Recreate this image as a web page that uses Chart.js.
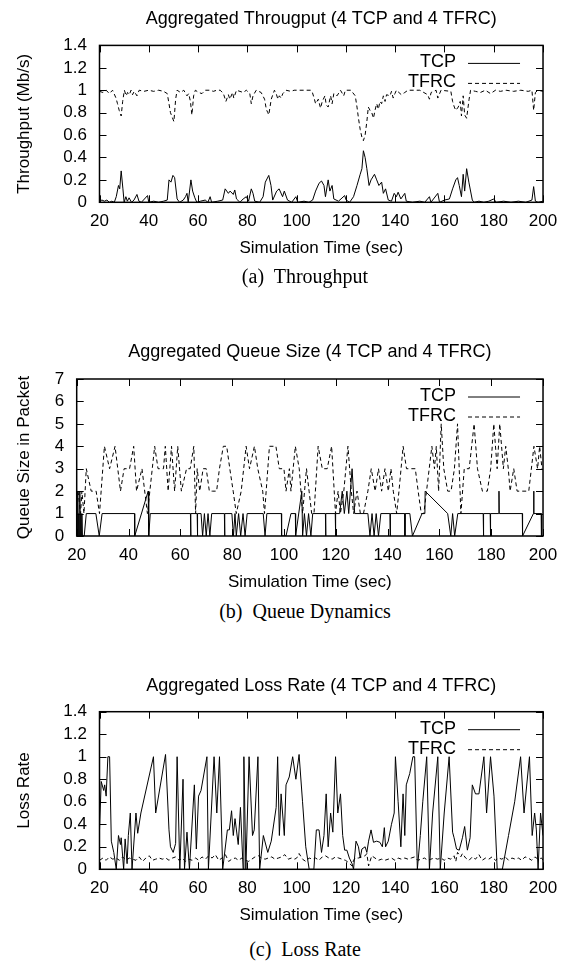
<!DOCTYPE html>
<html>
<head>
<meta charset="utf-8">
<script src="https://cdn.jsdelivr.net/npm/chart.js@4/dist/chart.umd.min.js"></script>
<style>
  html, body { margin: 0; padding: 0; background: #fff; }
  #page { position: relative; width: 566px; height: 963px; overflow: hidden; }
  canvas { position: absolute; left: 0; }
  .cap { position: absolute; left: 5px; width: 600px; text-align: center;
         font-family: "Liberation Serif", serif; font-size: 20px; color: #000; }
</style>
</head>
<body>
<div id="page">
  <canvas id="thr" width="566" height="270" style="top:0px"></canvas>
  <canvas id="queue" width="566" height="270" style="top:330px"></canvas>
  <canvas id="loss" width="566" height="270" style="top:663px"></canvas>
  <div class="cap" style="top:265px">(a)&nbsp; Throughput</div>
  <div class="cap" style="top:600px">(b)&nbsp; Queue Dynamics</div>
  <div class="cap" style="top:938px">(c)&nbsp; Loss Rate</div>
</div>
<script>
// --- throughput (Mb/s) ---
const thrTcpTime = [20,21,22,23,24,25,26,26.8,27.7,28.2,28.8,29.5,30,30.7,31.3,32,33,34,35.2,36,37,39.5,40,42,44,46,47.5,48.2,49,49.8,50.5,51.5,52.5,54,54.9,55.5,56,57.1,57.8,58.7,59.5,61,62.9,64,64.9,65.5,68,70,71,72.3,73,74.3,74.9,75.6,77,78.3,79.6,80.5,81.6,82.3,83,85,86.4,87.3,88.7,89.6,90.3,91.9,92.9,94.3,95,96.3,98,99.7,100.5,103,105,106.5,107.7,109.1,110.1,111.1,111.7,112.8,113.5,114.4,115.1,117,119.5,120.1,121.5,123.1,124.5,125.8,126.5,127.1,127.8,128.5,129.4,130.2,131.6,132.5,133.4,134.5,135.2,136.1,137.2,138.5,139.6,140.5,141.2,142.3,143.9,144.5,147,150,152,153.9,154.5,157.3,158,160,162,163.3,164.6,165.3,166,166.9,167.6,168.2,169,169.9,171.3,172,174,176,178,180,181,184,187,190,193,195.5,196.2,196.9,198,200];
const thrTcp = [0.01,0.02,0.01,0.02,0,0.01,0,0.05,0.15,0.12,0.28,0.12,0,0.05,0.01,0.04,0,0.02,0.07,0.01,0,0.06,0,0.01,0,0.01,0.02,0.2,0.18,0.24,0.22,0.03,0,0.02,0.05,0.08,0,0.2,0.1,0.04,0,0.01,0.02,0,0.05,0,0.01,0.02,0.12,0.08,0.1,0.07,0.11,0.03,0,0.03,0.05,0.01,0.12,0.08,0.01,0,0.05,0.18,0.24,0.15,0.02,0.1,0.12,0.05,0.1,0.02,0,0.05,0,0.01,0,0.02,0.1,0.17,0.19,0.15,0.05,0.2,0.1,0.15,0.03,0.01,0.06,0.02,0,0.05,0.15,0.25,0.3,0.46,0.4,0.3,0.15,0.2,0.25,0.2,0.15,0.18,0.08,0.12,0.02,0.01,0.08,0.05,0.09,0.03,0.08,0.01,0,0.01,0,0.05,0,0.08,0,0.02,0.03,0.12,0.2,0.22,0.15,0.05,0.25,0.1,0.3,0.18,0.02,0,0.01,0,0.01,0.03,0,0.01,0,0.01,0,0.02,0.14,0.01,0,0.01];
const thrTfrcTime = [20,21.4,22.7,24,25.3,26.7,27.3,28,28.8,29.4,30.1,30.8,31.4,32.1,32.8,33.4,34.1,35.2,36.1,38,40,42,44,46,47.5,48.2,48.8,49.5,50.2,50.9,51.5,52.9,54.2,55.5,56.2,56.9,57.5,58.2,58.9,60.2,61.6,62.9,64.9,66.2,67.6,69,70.3,71.3,72.3,72.9,74,74.5,75.6,78.3,79.6,81,81.6,82.3,83.6,85.6,87,87.7,88.3,88.7,89.7,91,91.7,92.4,93,93.7,94.4,95.7,97.7,99,100,103,105.7,106.4,107.1,107.7,108.8,109.7,110.4,111.5,112,112.8,113.8,114.4,115.1,116.4,117.8,119.1,119.8,122,123.8,124.5,125.1,125.8,126.5,127.1,127.8,128.5,129.1,129.8,130.5,131.2,131.8,132.5,133.2,133.8,134.5,135.2,135.9,136.5,137.9,138.5,139.2,139.9,140.5,142.5,143.9,145.2,150,153.2,153.9,154.6,156.6,157.3,158.6,162.6,163.3,164,164.6,165.6,166.4,166.9,167.6,168.2,169,170,170.6,172.6,174.6,176.6,178.7,180.7,182.7,185,188,191,194,195.5,196.2,196.9,198,200];
const thrTfrc = [0.99,0.98,1,0.97,1,0.93,0.88,0.82,0.77,0.9,1,0.95,0.98,0.96,1,0.96,0.99,0.95,1,0.99,1,0.99,1,0.99,0.97,0.88,0.8,0.76,0.72,0.92,1,0.98,1,0.95,0.97,0.9,0.78,0.95,1,0.98,0.97,1,1,0.99,1,1,0.97,0.9,0.96,0.92,0.98,0.93,1,0.98,1,0.97,0.88,0.95,1,0.98,0.92,0.83,0.8,0.78,0.92,1,0.97,0.92,0.95,0.93,0.97,1,0.99,1,1,1,1,0.98,0.93,0.88,0.92,0.84,0.9,0.95,0.87,0.85,0.95,0.88,0.97,0.95,1,0.95,1,1,0.95,0.85,0.75,0.65,0.58,0.55,0.6,0.72,0.85,0.82,0.8,0.75,0.82,0.88,0.83,0.9,0.88,0.95,0.9,0.96,0.95,0.99,0.93,0.97,1,0.96,0.98,1,1,0.96,0.92,0.98,1,0.93,1,0.99,0.9,0.85,0.82,0.85,0.9,0.77,0.95,0.78,0.75,0.92,1,0.99,0.98,1,0.97,1,0.99,1,0.99,1,0.99,1,0.82,0.98,1,0.99];

// --- queue size (packets) ---
const queueTcpTime = [20,20.2,20.4,20.6,20.8,21,21.2,21.4,21.6,21.8,22,22.2,22.9,23.7,27.4,28.7,29.8,42.3,42.4,47.6,47.8,48.4,63.9,64,64.1,66.5,66.6,66.7,68,68.6,69.3,70,70.7,71.4,72.1,77,77.1,77.2,79.9,80.5,81.1,81.6,82.5,83.3,84.2,85,85.8,92,92.7,93.4,99,99.1,100.8,102.7,104.4,104.5,106.9,107.2,107.9,108.7,109.5,110.4,111.1,116,116.1,116.2,119.8,119.9,120,121.5,122.5,123.3,124.3,125,126.3,127.3,132.4,133.2,134,134.8,135.6,136.5,137.4,140.9,141,141.1,146.6,146.7,146.8,148.6,149.6,153.3,154.4,154.5,163.2,164.4,165.1,165.9,167.1,176.9,177,177.1,179.6,179.7,179.8,182.9,183,183.1,192,192.1,196.3,196.4,196.5,199.3,199.4,200];
const queueTcp = [2,0,2,0,1,0,2,0,1,0,1,0,0,1,1,0,1,1,0,2,0,1,1,0,1,1,0,1,1,0,1,0,1,0,1,1,0,1,1,0,1,0,1,0,1,0,1,1,0,1,1,0,0,1,1,0,2,0,1,0,1,0,1,1,0,1,1,0,1,1,2,1,2,1,3,1,1,0,1,0,1,0,1,1,0,1,1,0,1,1,0,1,1,2,1,0,1,0,1,1,0,1,1,0,1,1,2,1,1,0,1,2,1,1,0,0];
const queueTfrcTime = [20.5,21.5,22,22.8,23.7,25.6,27.5,28.8,30.7,32.7,34.8,36.9,38.3,40.4,42,43.1,45.2,47.3,50.1,51.4,53.5,54.2,55.3,56.6,57.8,59,60.4,62.4,63.8,65.2,65.9,66.5,67.5,68.8,70,71.2,72.5,74,75.1,76.6,77.9,79.1,80.4,81.6,83.5,85.4,86.7,88.6,89.9,91.8,92.5,94.4,96.9,98.2,100,100.8,102.1,102.7,104.4,105.9,107.2,108.7,109.7,110.7,111.6,113.2,114.8,116.7,118.4,119.9,120.9,121.8,123.1,124.7,126,126.9,128.2,129.5,130.7,132.4,133.7,135.2,136.5,137.7,139,140.3,141.3,142.2,143.5,144.4,146,147.3,149.2,150.7,151.8,153,154,157.1,158.1,158.8,159.7,160.7,161.7,163.2,164.5,165.8,167,168.3,169.6,171.5,173.4,174.7,176.6,178.5,179.8,181,182.3,183.3,184.7,185.6,186.6,187.3,188.7,190,192,194.5,196.5,197.9,198.7,199.6];
const queueTfrc = [2,1,2,1,3,2,2,1,4,3,4,2,3,3,4,2,3,1,4,3,3,4,2,4,2,4,2,3,3,4,1,3,2,3,3,2,2,2,3,4,4,3,2,1,2,4,3,4,3,2,1,4,4,3,3,2,3,2,4,3,1,3,2,1,1,4,3,3,4,1,2,1,2,4,2,1,2,1,1,2,3,2,3,2,3,2,3,2,1,2,4,3,3,3,2,1,1,4,3,4,2,5,3,2,2,3,5,1,3,3,5,3,2,2,3,5,3,5,3,4,3,2,3,2,2,2,4,3,4,3];

// --- loss rate ---
const lossTcpTime = [20,20.7,21.7,22.1,22.7,23.4,24.1,24.8,25.8,26.8,27.7,28.5,28.8,29.8,30.4,31.2,31.7,32.5,33.2,34.8,35.5,36.8,41.9,42.8,46.8,48.2,48.8,49.9,50.9,51.5,52.6,53.9,54.5,55.5,56.5,58.5,59.3,60.2,61.2,63.6,64.2,66.5,67.6,68.7,70,71.9,72.7,73.6,74.3,75,76.3,77.2,78.3,78.6,79.4,80.7,82.1,82.8,84.3,85,86.5,88.3,89.7,91.7,92.3,93,93.7,95,95.7,97,98.4,99.7,101,102.4,103.7,105.1,107,108,109.1,110.1,111.1,112,112.8,113.8,114.7,115.8,116.7,117.8,118.7,119.5,120.4,121.4,122.5,123.1,124.1,125.1,125.8,126.5,127.8,128.5,129.2,130.2,131.2,132.5,133.8,134.8,135.6,136.1,137.2,138.5,139.6,140.1,141.2,142.3,143.2,143.9,144.5,145.9,147.2,147.9,149,150.2,151.2,152.8,153.9,155.2,157.3,158.3,159.9,161.9,163.3,163.9,164.9,166,167.3,168.2,169.3,170.4,171.3,172.6,174,176,177.1,178.7,180.1,181.4,183.5,186,188.5,190.9,192.3,194.5,195.6,196.6,197.3,198,199,200];
const lossTcp = [0.35,0.78,0.7,0.75,0.65,1,1,0.25,0.15,0,0.3,0.22,0.28,0,0.27,0.05,0.3,0.5,0,0.5,0.32,0.5,1,0.5,1.02,0.35,0.2,0.15,0.23,1,0,0.8,0,0.33,0,0.75,0.18,0.65,0.7,1,0,1,0.5,1,0,0.35,0.35,0.52,0.3,0.45,0.22,0.55,0,1,0,1,0.3,0.35,1,0,0.3,0.15,0.25,0.55,1,0.3,0.67,0.3,0.75,0.82,1,0.8,1.02,0.6,0.2,0,0,0.35,0.35,0.15,0.3,0.67,0.2,0.5,0.33,1,0.5,0.67,0.3,0.17,0.17,0.1,0.05,0,0.25,0.2,0.1,0.18,0.2,0.15,0.25,0.35,0.24,0.25,0.24,0.2,0.37,0.2,0.25,0.4,0.5,1,0.6,0.2,0.67,0.3,0.75,0.85,1,1,0,0.3,0.6,1,0,0.5,1,0,0.5,1,0.33,0.28,0.18,0.17,0.28,0.38,0.17,0.28,0.75,0.67,0.67,1,0.5,1,0.65,0,0,0.3,0.6,1,0.5,1,0.3,0.5,0.35,0,0.5,0.3];
const lossTfrcTime = [20,21.4,22.7,24,25.4,26.7,28.1,29.4,30.8,32.1,33.4,34.8,36.1,37.5,38.8,40.2,41.5,42.8,44.2,45.5,46.9,48.2,49.6,50.9,52.3,53.6,54.9,56.3,57.6,59,60.3,61.6,63,64.3,65.7,67,68.4,69.7,71.1,72.4,73.7,75.1,76.4,77.8,79.1,80.5,81.8,83.1,84.5,85.8,87.2,88.5,89.9,91.2,92.6,93.9,95.2,96.6,97.9,99.3,100.5,101,102.4,103.7,105.1,106.4,107.7,109.1,110.4,111.7,113.1,114.4,115.8,117.1,118.4,119.8,121.1,122.5,123.1,123.8,125.1,126.5,127.8,128.5,129.2,130.5,131.8,133.2,134.5,135.8,137.2,138.5,139.9,141.2,142.5,143.9,145.2,146.5,147.9,149.2,150.5,151.9,153.2,154.5,155.9,157.2,158.6,159.9,161.2,162.6,163.9,164.6,165.3,166.6,167.3,168.6,170,171.3,172.6,174,175.3,176.7,178,179.3,180.7,182,183.3,184.7,186,187.4,188.7,190,191.4,192.7,194,195.4,196.7,198,199.4,200];
const lossTfrc = [0.08,0.1,0.08,0.11,0.09,0.1,0.08,0.11,0.08,0.1,0.09,0.08,0.11,0.07,0.1,0.12,0.08,0.09,0.1,0.09,0.1,0.08,0.1,0.11,0.08,0.1,0.07,0.09,0.08,0.1,0.08,0.11,0.09,0.12,0.1,0.13,0.08,0.1,0.13,0.07,0.09,0.1,0.08,0.1,0.08,0.07,0.09,0.11,0.12,0.1,0.09,0.1,0.11,0.09,0.1,0.11,0.13,0.09,0.1,0.09,0.11,0.14,0.09,0.07,0.1,0.09,0.1,0.08,0.11,0.12,0.1,0.09,0.11,0.1,0.09,0.08,0.06,0.03,0.08,0.1,0.1,0.11,0.12,0.14,0.03,0.12,0.1,0.08,0.09,0.08,0.09,0.1,0.08,0.1,0.09,0.1,0.09,0.1,0.11,0.08,0.09,0.1,0.08,0.09,0.1,0.09,0.1,0.08,0.1,0.09,0.12,0.07,0.15,0.11,0.14,0.1,0.08,0.11,0.09,0.13,0.08,0.1,0.09,0.11,0.08,0.1,0.09,0.11,0.08,0.1,0.09,0.1,0.08,0.11,0.1,0.08,0.11,0.09,0.1,0.08];

const FONT = '"Liberation Sans", Arial, sans-serif';
Chart.defaults.color = '#000';
Chart.defaults.font.family = FONT;
Chart.defaults.font.size = 17;

function pts(xs, ys) {
  return xs.map((t, i) => ({ x: t, y: ys[i] }));
}

// gnuplot style: box, inward ticks on all four sides, key in the top right corner
const gnuFrame = {
  id: 'gnuFrame',
  afterDatasetsDraw(chart) {
    const { ctx, chartArea: a, scales: { x, y } } = chart;
    ctx.save();
    ctx.strokeStyle = '#000';
    ctx.lineWidth = 1;
    ctx.beginPath();
    x.ticks.forEach(t => {
      const px = Math.round(x.getPixelForValue(t.value)) + 0.5;
      ctx.moveTo(px, a.bottom); ctx.lineTo(px, a.bottom - 7);
      ctx.moveTo(px, a.top); ctx.lineTo(px, a.top + 7);
    });
    y.ticks.forEach(t => {
      const py = Math.round(y.getPixelForValue(t.value)) + 0.5;
      ctx.moveTo(a.left, py); ctx.lineTo(a.left + 7, py);
      ctx.moveTo(a.right, py); ctx.lineTo(a.right - 7, py);
    });
    ctx.stroke();
    ctx.lineWidth = 1.5;
    ctx.strokeRect(a.left, a.top, a.right - a.left, a.bottom - a.top);

    // key
    ctx.font = '18px ' + FONT;
    ctx.fillStyle = '#000';
    ctx.textAlign = 'right';
    ctx.textBaseline = 'middle';
    chart.data.datasets.forEach((ds, i) => {
      const ky = a.top + 17 + i * 20;
      ctx.fillText(ds.label, a.right - 87, ky);
      ctx.lineWidth = 1;
      ctx.setLineDash(ds.borderDash || []);
      ctx.beginPath();
      ctx.moveTo(a.right - 75, ky + 1);
      ctx.lineTo(a.right - 23, ky + 1);
      ctx.stroke();
    });
    ctx.restore();
  }
};

function makeChart(id, o) {
  const H = 270;
  return new Chart(document.getElementById(id), {
    type: 'line',
    data: {
      datasets: [
        { label: 'TCP', data: pts(o.tcpT, o.tcp), borderColor: '#000', borderWidth: 1,
          pointRadius: 0, tension: 0 },
        { label: 'TFRC', data: pts(o.tfrcT, o.tfrc), borderColor: '#000', borderWidth: 1,
          borderDash: [4, 3], pointRadius: 0, tension: 0 }
      ]
    },
    options: {
      responsive: false,
      animation: false,
      events: [],
      layout: { padding: { left: 0, right: 566 - o.right, top: 0, bottom: 0 } },
      plugins: {
        legend: { display: false },
        tooltip: { enabled: false },
        title: {
          display: true,
          text: o.title,
          fullSize: false,
          font: { size: 18, weight: 'normal' },
          padding: { top: o.titleY - 10.8, bottom: o.top - o.titleY - 10.8 }
        }
      },
      scales: {
        x: {
          type: 'linear', min: 20, max: 200,
          ticks: { stepSize: 20, padding: 8.8, maxRotation: 0, autoSkip: false },
          grid: { display: false, drawTicks: false },
          border: { display: false },
          title: { display: true, text: 'Simulation Time (sec)', padding: { top: 0, bottom: H - o.bottom - 46.5 - 10.2 } },
          afterFit: s => { s.height = H - o.bottom; }
        },
        y: {
          min: 0, max: o.ymax,
          ticks: { stepSize: o.ystep, padding: 12.5, autoSkip: false,
                   callback: v => String(Math.round(v * 10) / 10) },
          grid: { display: false, drawTicks: false },
          border: { display: false },
          title: { display: true, text: o.ytitle, padding: { top: 13.8, bottom: 0 } },
          afterFit: s => { s.width = o.left; }
        }
      }
    },
    plugins: [gnuFrame]
  });
}

makeChart('thr', {
  title: 'Aggregated Througput (4 TCP and 4 TFRC)', ytitle: 'Throughput (Mb/s)',
  tcpT: thrTcpTime, tcp: thrTcp, tfrcT: thrTfrcTime, tfrc: thrTfrc,
  ymax: 1.4, ystep: 0.2, left: 99.5, right: 547.7, titleY: 19.4, top: 45.4, bottom: 202.3
});
makeChart('queue', {
  title: 'Aggregated Queue Size (4 TCP and 4 TFRC)', ytitle: 'Queue Size in Packet',
  tcpT: queueTcpTime, tcp: queueTcp, tfrcT: queueTfrcTime, tfrc: queueTfrc,
  ymax: 7, ystep: 1, left: 76.7, right: 547.6, titleY: 22.3, top: 49, bottom: 206
});
makeChart('loss', {
  title: 'Aggregated Loss Rate (4 TCP and 4 TFRC)', ytitle: 'Loss Rate',
  tcpT: lossTcpTime, tcp: lossTcp, tfrcT: lossTfrcTime, tfrc: lossTfrc,
  ymax: 1.4, ystep: 0.2, left: 99.5, right: 548, titleY: 22.8, top: 48.7, bottom: 206.3
});
</script>
</body>
</html>
